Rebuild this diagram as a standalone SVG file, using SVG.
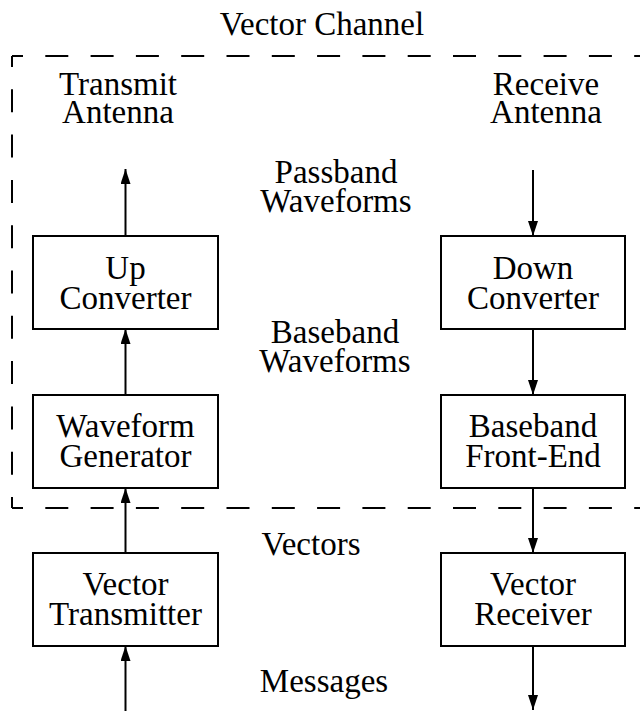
<svg xmlns="http://www.w3.org/2000/svg" width="640" height="711" viewBox="0 0 640 711">
  <style>
    .box { fill: #ffffff; stroke: #000000; stroke-width: 2; }
    .lbl { font-family: "Liberation Serif", "DejaVu Serif", serif; font-size: 33px; fill: #000000; text-anchor: middle; }
    .wire { fill: none; stroke: #000000; stroke-width: 2; }
    .dash { fill: none; stroke: #000000; stroke-width: 2; stroke-dasharray: 23 22.3; }
  </style>
  <defs>
    <marker id="arrow" markerUnits="userSpaceOnUse" markerWidth="16" markerHeight="12" refX="15" refY="5" orient="auto">
      <path d="M0,0 L15,5 L0,10 Z" fill="#000000"/>
    </marker>
  </defs>

  <rect width="640" height="711" fill="#ffffff"/>

  <!-- vector channel boundary (right side runs off the page) -->
  <g id="channel">
    <path class="dash" d="M12,56 H640" stroke-dashoffset="12"/>
    <path class="dash" d="M12,56 V508" stroke-dashoffset="12"/>
    <path class="dash" d="M12,508 H640" stroke-dashoffset="12"/>
    <text class="lbl" x="322" y="35">Vector Channel</text>
  </g>

  <!-- free-standing labels -->
  <g id="tx-antenna">
    <text class="lbl" x="118" y="95">Transmit</text>
    <text class="lbl" x="118" y="123">Antenna</text>
  </g>
  <g id="rx-antenna">
    <text class="lbl" x="546" y="95">Receive</text>
    <text class="lbl" x="546" y="123">Antenna</text>
  </g>
  <g id="passband">
    <text class="lbl" x="336" y="183">Passband</text>
    <text class="lbl" x="336" y="212">Waveforms</text>
  </g>
  <g id="baseband">
    <text class="lbl" x="335" y="343">Baseband</text>
    <text class="lbl" x="335" y="372">Waveforms</text>
  </g>
  <g id="vectors">
    <text class="lbl" x="311" y="555">Vectors</text>
  </g>
  <g id="messages">
    <text class="lbl" x="324" y="692">Messages</text>
  </g>

  <!-- transmit chain -->
  <g id="up-converter">
    <rect class="box" x="33" y="236" width="185" height="93"/>
    <text class="lbl" x="125.5" y="279">Up</text>
    <text class="lbl" x="125.5" y="309">Converter</text>
  </g>
  <g id="waveform-generator">
    <rect class="box" x="33" y="395" width="185" height="93"/>
    <text class="lbl" x="125.5" y="437">Waveform</text>
    <text class="lbl" x="125.5" y="467">Generator</text>
  </g>
  <g id="vector-transmitter">
    <rect class="box" x="33" y="553" width="185" height="93"/>
    <text class="lbl" x="125.5" y="595">Vector</text>
    <text class="lbl" x="125.5" y="625">Transmitter</text>
  </g>

  <!-- receive chain -->
  <g id="down-converter">
    <rect class="box" x="441" y="236" width="184" height="93"/>
    <text class="lbl" x="533" y="279">Down</text>
    <text class="lbl" x="533" y="309">Converter</text>
  </g>
  <g id="baseband-front-end">
    <rect class="box" x="441" y="395" width="184" height="93"/>
    <text class="lbl" x="533" y="437">Baseband</text>
    <text class="lbl" x="533" y="467">Front-End</text>
  </g>
  <g id="vector-receiver">
    <rect class="box" x="441" y="553" width="184" height="93"/>
    <text class="lbl" x="533" y="595">Vector</text>
    <text class="lbl" x="533" y="625">Receiver</text>
  </g>

  <!-- signal flow -->
  <g id="connectors">
    <path class="wire" d="M125.5,236 V169" marker-end="url(#arrow)"/>
    <path class="wire" d="M125.5,395 V329" marker-end="url(#arrow)"/>
    <path class="wire" d="M125.5,553 V488" marker-end="url(#arrow)"/>
    <path class="wire" d="M125.5,711 V646" marker-end="url(#arrow)"/>
    <path class="wire" d="M533,170 V236" marker-end="url(#arrow)"/>
    <path class="wire" d="M533,329 V395" marker-end="url(#arrow)"/>
    <path class="wire" d="M533,488 V553" marker-end="url(#arrow)"/>
    <path class="wire" d="M533,646 V710" marker-end="url(#arrow)"/>
  </g>
</svg>
